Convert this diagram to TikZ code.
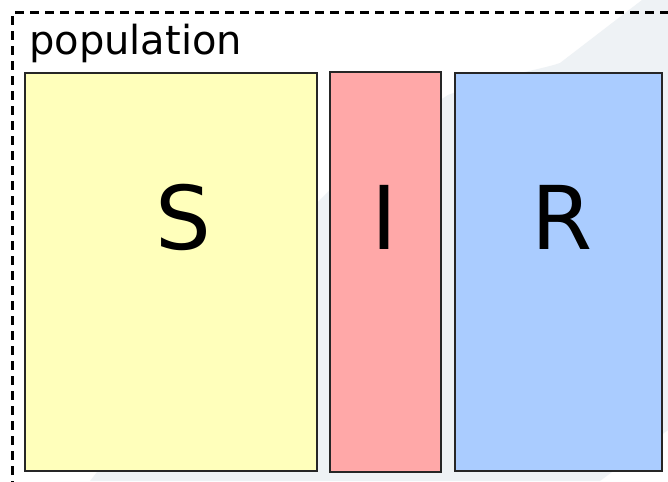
\documentclass[tikz,border=0pt]{standalone}
\usepackage{fontspec}
\setmainfont{DejaVu Sans}
\definecolor{sfill}{HTML}{FFFFBB}
\definecolor{ifill}{HTML}{FFA8A8}
\definecolor{rfill}{HTML}{AACCFF}
\definecolor{wm}{HTML}{EEF2F5}
\definecolor{edge}{HTML}{262626}
\tikzset{
  compartment/.style={draw=edge, line width=2.2pt, inner sep=0pt},
  biglabel/.style={font=\fontsize{88}{88}\selectfont, inner sep=0pt, text=black},
  groupbox/.style={draw=black, line width=3pt, dash pattern=on 9pt off 6pt}
}
\begin{document}
\begin{tikzpicture}[x=1pt,y=-1pt]
\useasboundingbox (0,0) rectangle (668,481);
\fill[white] (0,0) rectangle (668,481);
% faint watermark swoosh
\fill[wm] (642,0) -- (668,0) -- (668,430) -- (600,481) -- (90,481)
  .. controls (200,340) and (300,190) .. (448,95)
  .. controls (500,75) and (540,70) .. (560,63) -- (642,0) -- cycle;
% dashed population border (right and bottom outside the picture)
\draw[groupbox] (12,490) -- (12,13) -- (680,13);
\node[anchor=base west, font=\fontsize{40}{40}\selectfont, inner sep=0pt] (pop) at (29,55) {population};
% compartments
\draw[compartment, fill=sfill] (25,73) rectangle (317,471);
\draw[compartment, fill=ifill] (330,72) rectangle (441,472);
\draw[compartment, fill=rfill] (455,73) rectangle (662,471);
\node[biglabel] (S) at (183,217) {S};
\node[biglabel] (I) at (384,217) {I};
\node[biglabel] (R) at (562,217) {R};
\end{tikzpicture}
\end{document}
